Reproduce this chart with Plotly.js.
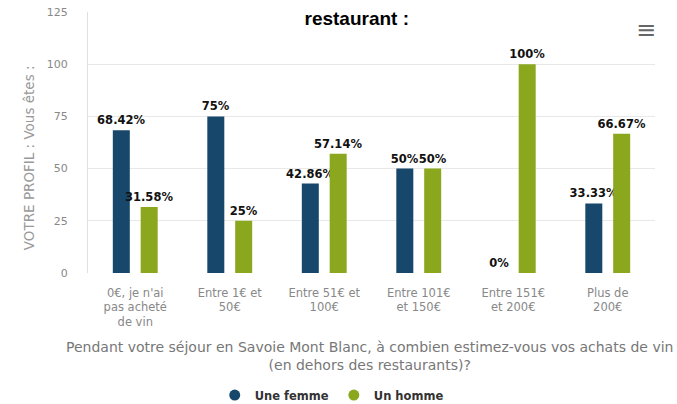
<!DOCTYPE html>
<html>
<head>
<meta charset="utf-8">
<script src="https://cdn.plot.ly/plotly-3.0.1.min.js"></script>
<style>html,body{margin:0;padding:0;background:#fff;}#chart{width:677px;height:404px;}</style>
</head>
<body>
<div id="chart"></div>
<script>
const categories = ["0€, je n'ai<br>pas acheté<br>de vin", "Entre 1€ et<br>50€", "Entre 51€ et<br>100€", "Entre 101€<br>et 150€", "Entre 151€<br>et 200€", "Plus de<br>200€"];
const femme = [68.42, 75, 42.86, 50, 0, 33.33];
const homme = [31.58, 25, 57.14, 50, 100, 66.67];
const seriesNames = ["Une femme", "Un homme"];
const colors = ["#17476b", "#8ba71e"];

const labelFont = {family: "DejaVu Sans", size: 11.5, color: "#111"};
function bar(vals, i) {
  return {
    type: "bar", x: categories, y: vals, name: seriesNames[i],
    marker: {color: colors[i]},
    text: vals.map(v => "<b>" + v + "%</b>"),
    textposition: "outside", textfont: labelFont, cliponaxis: false,
    constraintext: "none", textangle: 0,
    showlegend: false, hoverinfo: "x+y"
  };
}
function legendTrace(i) {
  return {type: "scatter", mode: "markers", x: [null], y: [null], name: "<b>" + seriesNames[i] + "</b>",
    marker: {color: colors[i], size: 11, symbol: "circle"}, showlegend: true};
}
const data = [bar(femme, 0), bar(homme, 1), legendTrace(0), legendTrace(1)];

const layout = {
  width: 677, height: 404,
  margin: {l: 88, r: 22, t: 12, b: 131},
  paper_bgcolor: "#fff", plot_bgcolor: "#fff",
  barmode: "group", bargap: 0.41, bargroupgap: 0.39,
  font: {family: "DejaVu Sans", color: "#666"},
  title: {text: "<b>restaurant :</b>", font: {family: "Liberation Sans, Arial", size: 19, color: "#000"},
    x: 0.527, xanchor: "center", y: 0.955, yanchor: "middle"},
  xaxis: {
    type: "category", showgrid: false, zeroline: false, automargin: false,
    showline: false, ticks: "", tickfont: {family: "DejaVu Sans", size: 11.5, color: "#888"},
    ticklabelstandoff: 11
  },
  yaxis: {
    range: [0, 125], tickvals: [0, 25, 50, 75, 100, 125], ticktext: ["0", "25", "50", "75", "100", "125"],
    gridcolor: "#e8e8e8", zeroline: false, showline: true, linecolor: "#e0e0e0", automargin: false,
    tickfont: {family: "DejaVu Sans", size: 11, color: "#888"}, ticklabelstandoff: 17
  },
  legend: {orientation: "h", xref: "container", yref: "container", x: 0.49, xanchor: "center", y: 0.022, yanchor: "middle",
    itemwidth: 30, font: {family: "DejaVu Sans", size: 11.5, color: "#333"}, itemclick: false},
  annotations: [
    {text: "≡", xref: "paper", yref: "paper", x: 0.985, y: 0.93, showarrow: false,
      font: {family: "DejaVu Sans", size: 24, color: "#666"}, xanchor: "center", yanchor: "middle"},
    {text: "VOTRE PROFIL : Vous êtes :", xref: "paper", yref: "paper", x: -0.104, y: 0.44, textangle: -90,
      showarrow: false, xanchor: "center", yanchor: "middle", font: {family: "DejaVu Sans", size: 13.5, color: "#999"}},
    {text: "Pendant votre séjour en Savoie Mont Blanc, à combien estimez-vous vos achats de vin<br>(en dehors des restaurants)?",
      xref: "paper", yref: "paper", x: 0.497, y: -0.318, showarrow: false, xanchor: "center", yanchor: "middle",
      font: {family: "DejaVu Sans", size: 14, color: "#777"}}
  ]
};
Plotly.newPlot("chart", data, layout, {displayModeBar: false, staticPlot: true});
</script>
</body>
</html>
